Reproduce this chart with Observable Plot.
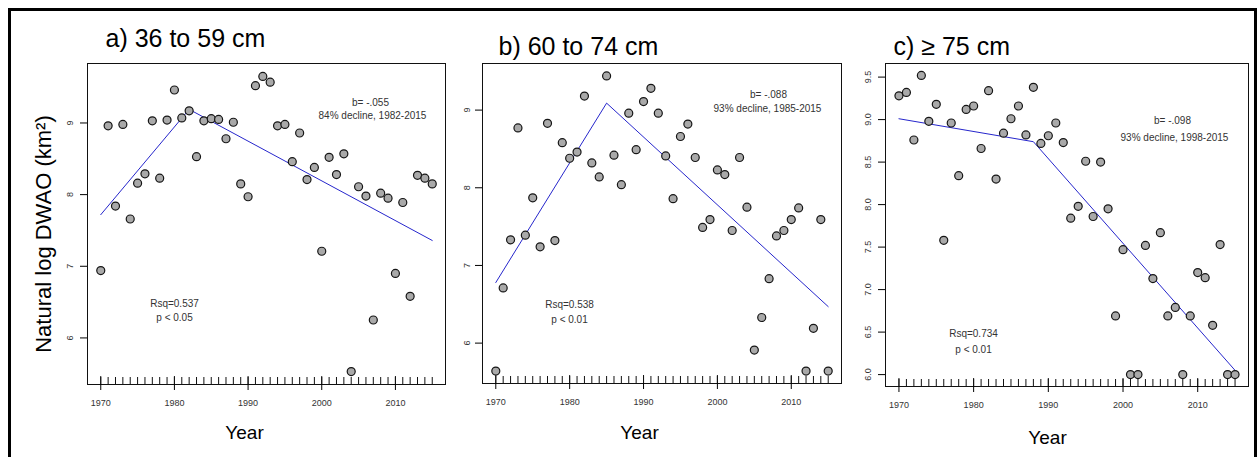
<!DOCTYPE html>
<html><head><meta charset="utf-8">
<script src="https://cdn.jsdelivr.net/npm/d3@7"></script>
<script src="https://cdn.jsdelivr.net/npm/@observablehq/plot@0.6"></script>
<style>
body{margin:0;background:#fff;}
#wrap{position:relative;width:1260px;height:457px;overflow:hidden;background:#fff;}
#border{position:absolute;left:8px;top:8px;width:1249px;height:470px;border:3px solid #000;box-sizing:border-box;}
.panel{position:absolute;top:0;}
</style></head><body><div id="wrap"><div id="border"></div></div>
<script>
const FONT = '"Liberation Sans", Arial, Helvetica, sans-serif';
const years = [1970,1971,1972,1973,1974,1975,1976,1977,1978,1979,1980,1981,1982,1983,1984,1985,1986,1987,1988,1989,1990,1991,1992,1993,1994,1995,1996,1997,1998,1999,2000,2001,2002,2003,2004,2005,2006,2007,2008,2009,2010,2011,2012,2013,2014,2015];
const decadeTicks = [1970,1980,1990,2000,2010];

const valuesA = [6.94,8.96,7.84,8.98,7.66,8.16,8.29,9.03,8.23,9.04, 9.46,9.07,9.17,8.53,9.03,9.06,9.05,8.78,9.01,8.15, 7.97,9.52,9.65,9.57,8.96,8.98,8.46,8.86,8.21,8.38, 7.21,8.52,8.28,8.57,5.53,8.11,7.98,6.25,8.02,7.95, 6.90,7.89,6.58,8.27,8.23,8.15];
const valuesB = [5.64,6.71,7.33,8.77,7.39,7.87,7.24,8.83,7.32,8.58, 8.38,8.46,9.18,8.32,8.14,9.44,8.42,8.04,8.96,8.49, 9.11,9.28,8.96,8.41,7.86,8.66,8.82,8.39,7.49,7.59, 8.23,8.17,7.45,8.39,7.75,5.91,6.33,6.83,7.38,7.45, 7.59,7.74,5.64,6.19,7.59,5.64];
const valuesC = [9.28,9.32,8.76,9.52,8.98,9.18,7.58,8.96,8.34,9.12, 9.16,8.66,9.34,8.30,8.84,9.01,9.16,8.82,9.38,8.72, 8.81,8.96,8.73,7.84,7.98,8.51,7.86,8.50,7.95,6.69, 7.47,6.00,6.00,7.52,7.13,7.67,6.69,6.79,6.00,6.69, 7.20,7.14,6.58,7.53,6.00,6.00];

const fitYearsA = [1970,1982,2015], fitValuesA = [7.72,9.19,7.36];
const fitYearsB = [1970,1985,2015], fitValuesB = [6.78,9.09,6.47];
const fitYearsC = [1970,1988,2015], fitValuesC = [9.01,8.74,6.05];

const yTicksA = [6,7,8,9];
const yTicksB = [6,7,8,9];
const yTicksC = [6.0,6.5,7.0,7.5,8.0,8.5,9.0,9.5];

const titles = ["a) 36 to 59 cm","b) 60 to 74 cm","c) \u2265 75 cm"];
const slopeText = ["b= -.055","b= -.088","b= -.098"];
const declineText = ["84% decline, 1982-2015","93% decline, 1985-2015","93% decline, 1998-2015"];
const rsqText = ["Rsq=0.537","Rsq=0.538","Rsq=0.734"];
const pText = ["p < 0.05","p < 0.01","p < 0.01"];
const yAxisTitle = "Natural log DWAO (km\u00b2)";
const xAxisTitle = "Year";

function panel(c) {
  const H = 457;
  const innerH = H - c.mt - c.mb;
  const pts = years.map((yr, i) => ({year: yr, v: c.values[i]}));
  const fit = c.fitYears.map((yr, i) => ({year: yr, v: c.fitValues[i]}));
  const marks = [
    Plot.frame({stroke: "#111", strokeWidth: 1}),
    Plot.ruleX(years, {x: d => d, insetTop: innerH - 7, stroke: "#111", strokeWidth: 1}),
    Plot.ruleX(decadeTicks, {x: d => d, insetTop: innerH - 8, stroke: "#111", strokeWidth: 1}),
    Plot.axisX({ticks: decadeTicks, tickSize: 6, tickPadding: 9, fontSize: 9, fill: "#333", tickFormat: d => String(d), label: null}),
    Plot.axisY({ticks: c.yTicks, tickSize: 7, tickFormat: () => "", label: null}),
    Plot.text(c.yTicks, {y: d => d, text: d => c.yFmt(d), frameAnchor: "left", dx: c.ylabDx, rotate: -90, textAnchor: "middle", lineAnchor: "middle", fontSize: 9, fill: "#333"}),
    Plot.line(fit, {x: "year", y: "v", stroke: "#2626cc", strokeWidth: 1}),
    Plot.dot(pts, {x: "year", y: "v", r: 4, fill: "#a9a9a9", stroke: "#151515", strokeWidth: 1.2}),
    Plot.text([titles[c.i]], {frameAnchor: "top-left", dx: c.titleDx, dy: c.titleDy, textAnchor: "start", lineAnchor: "bottom", fontSize: 25, fill: "#000"}),
    Plot.text([slopeText[c.i]], {frameAnchor: "top-left", dx: c.ann[0], dy: c.ann[1], textAnchor: "middle", lineAnchor: "middle", fontSize: 10, fill: "#333"}),
    Plot.text([declineText[c.i]], {frameAnchor: "top-left", dx: c.ann[2], dy: c.ann[3], textAnchor: "middle", lineAnchor: "middle", fontSize: 10, fill: "#333"}),
    Plot.text([rsqText[c.i]], {frameAnchor: "top-left", dx: c.ann[4], dy: c.ann[5], textAnchor: "middle", lineAnchor: "middle", fontSize: 10, fill: "#333"}),
    Plot.text([pText[c.i]], {frameAnchor: "top-left", dx: c.ann[6], dy: c.ann[7], textAnchor: "middle", lineAnchor: "middle", fontSize: 10, fill: "#333"}),
    Plot.text([xAxisTitle], {frameAnchor: "bottom-left", dx: c.yearDx, dy: c.yearDy, textAnchor: "middle", lineAnchor: "middle", fontSize: 19, fill: "#000"})
  ];
  if (c.i === 0) {
    marks.push(Plot.text([yAxisTitle], {frameAnchor: "left", dx: -44, dy: 10, rotate: -90, textAnchor: "middle", lineAnchor: "middle", fontSize: 22, fill: "#000"}));
  }
  const p = Plot.plot({
    width: c.width, height: H,
    marginLeft: c.ml, marginRight: c.mr, marginTop: c.mt, marginBottom: c.mb,
    style: {fontFamily: FONT, background: "transparent", overflow: "visible"},
    x: {domain: [1968.2, 2016.8]},
    y: {domain: c.yDomain},
    marks
  });
  p.classList.add("panel");
  p.style.left = c.left + "px";
  p.style.position = "absolute";
  p.style.top = "0px";
  document.getElementById("wrap").appendChild(p);
}

panel({i: 0, left: 0, width: 455, ml: 87, mr: 10, mt: 63, mb: 73,
  values: valuesA, fitYears: fitYearsA, fitValues: fitValuesA,
  yDomain: [5.35, 9.83], yTicks: yTicksA, yFmt: d => String(d), ylabDx: -17,
  titleDx: 18, titleDy: -17, ann: [283, 39, 285, 52, 87, 240, 87, 254], yearDx: 157, yearDy: 48});
panel({i: 1, left: 455, width: 400, ml: 27, mr: 14, mt: 63, mb: 74,
  values: valuesB, fitYears: fitYearsB, fitValues: fitValuesB,
  yDomain: [5.48, 9.60], yTicks: yTicksB, yFmt: d => String(d), ylabDx: -15,
  titleDx: 16, titleDy: -9, ann: [286, 31, 285, 45, 87, 241, 87, 256], yearDx: 157, yearDy: 49});
panel({i: 2, left: 855, width: 405, ml: 30, mr: 12, mt: 63, mb: 71,
  values: valuesC, fitYears: fitYearsC, fitValues: fitValuesC,
  yDomain: [5.86, 9.66], yTicks: yTicksC, yFmt: d => d.toFixed(1), ylabDx: -17,
  titleDx: 8, titleDy: -9, ann: [287, 57, 289, 74, 88, 270, 88, 286], yearDx: 162, yearDy: 51});
</script>
</body></html>
